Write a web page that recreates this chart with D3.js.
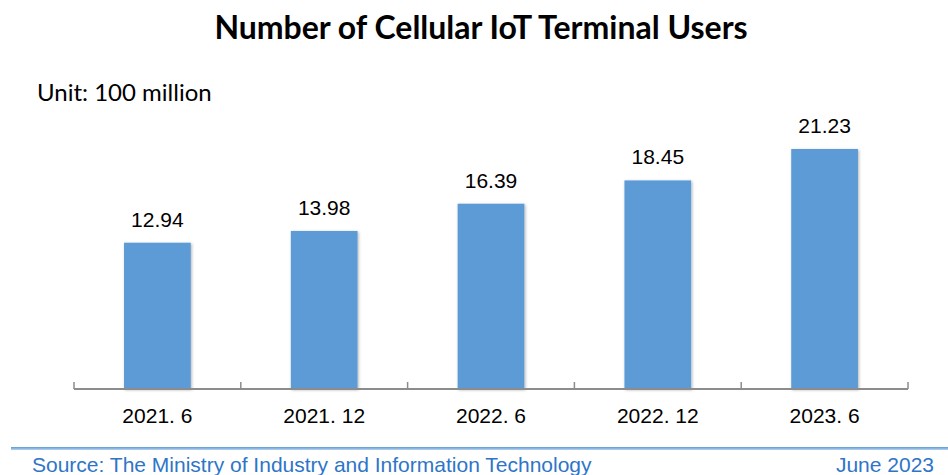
<!DOCTYPE html>
<html>
<head>
<meta charset="utf-8">
<script src="https://cdn.jsdelivr.net/npm/d3@7"></script>
<style>
  body { margin: 0; background: #fff; }
  svg { display: block; }
</style>
</head>
<body>
<svg id="chart" width="948" height="475"></svg>
<script>
// data
var periods = ['2021. 6', '2021. 12', '2022. 6', '2022. 12', '2023. 6'];
var users = [12.94, 13.98, 16.39, 18.45, 21.23];

var svg = d3.select('#chart');
var width = 948, height = 475;

var axisLeft = 74, axisRight = 908, baseY = 389;

var x = d3.scaleBand()
    .domain(periods)
    .range([axisLeft, axisRight])
    .paddingInner(0.6)
    .paddingOuter(0.3);

var y = d3.scaleLinear()
    .domain([0, 21.23])
    .range([baseY, 149]);

// title
svg.append('text')
    .attr('x', 481)
    .attr('y', 39)
    .attr('text-anchor', 'middle')
    .attr('font-family', 'Lato, "Open Sans", sans-serif')
    .attr('font-weight', 'bold')
    .attr('font-size', 32)
    .attr('fill', '#000')
    .text('Number of Cellular IoT Terminal Users');

svg.append('text')
    .attr('x', 37)
    .attr('y', 101)
    .attr('font-family', 'Lato, "Open Sans", sans-serif')
    .attr('font-size', 24)
    .attr('fill', '#000')
    .text('Unit: 100 million');

// bar shadow filter
var defs = svg.append('defs');
var f = defs.append('filter').attr('id', 'shadow').attr('x', '-10%').attr('y', '-10%').attr('width', '130%').attr('height', '130%');
f.append('feDropShadow')
    .attr('dx', 1).attr('dy', 1).attr('stdDeviation', 1.5)
    .attr('flood-color', '#000').attr('flood-opacity', 0.3);

var bars = svg.append('g');
bars.selectAll('rect')
    .data(users)
    .enter().append('rect')
    .attr('x', function (d, i) { return x(periods[i]); })
    .attr('y', function (d) { return y(d); })
    .attr('width', x.bandwidth())
    .attr('height', function (d) { return baseY - y(d); })
    .attr('fill', '#5b9bd5')
    .attr('filter', 'url(#shadow)');

bars.selectAll('text')
    .data(users)
    .enter().append('text')
    .attr('x', function (d, i) { return x(periods[i]) + x.bandwidth() / 2; })
    .attr('y', function (d) { return y(d) - 16; })
    .attr('text-anchor', 'middle')
    .attr('font-family', '"Liberation Sans", Arial, sans-serif')
    .attr('font-size', 21)
    .attr('fill', '#000')
    .text(function (d) { return d.toFixed(2); });

// x axis, ticks point up at the category edges
var axis = svg.append('g');
axis.append('line')
    .attr('x1', axisLeft).attr('x2', axisRight)
    .attr('y1', baseY).attr('y2', baseY)
    .attr('stroke', '#8c8c8c').attr('stroke-width', 2);

var edges = d3.range(periods.length + 1).map(function (i) {
    return axisLeft + i * (axisRight - axisLeft) / periods.length;
});
axis.selectAll('line.tick')
    .data(edges)
    .enter().append('line')
    .attr('class', 'tick')
    .attr('x1', function (d) { return d; })
    .attr('x2', function (d) { return d; })
    .attr('y1', baseY - 7).attr('y2', baseY)
    .attr('stroke', '#8c8c8c').attr('stroke-width', 1.5);

axis.selectAll('text')
    .data(periods)
    .enter().append('text')
    .attr('x', function (d) { return x(d) + x.bandwidth() / 2; })
    .attr('y', 423)
    .attr('text-anchor', 'middle')
    .attr('font-family', '"Liberation Sans Narrow", "Arial Narrow", sans-serif')
    .attr('font-size', 21)
    .attr('fill', '#000')
    .text(function (d) { return d; });

// footer
var grad = defs.append('linearGradient').attr('id', 'lineGrad').attr('x1', 0).attr('x2', 0).attr('y1', 0).attr('y2', 1);
grad.append('stop').attr('offset', '0%').attr('stop-color', '#5b9bd5');
grad.append('stop').attr('offset', '100%').attr('stop-color', '#b9d3ee');

svg.append('rect')
    .attr('x', 11).attr('y', 447)
    .attr('width', width - 11).attr('height', 3)
    .attr('fill', 'url(#lineGrad)');

svg.append('text')
    .attr('x', 32)
    .attr('y', 472)
    .attr('font-family', '"Liberation Sans", Arial, sans-serif')
    .attr('font-size', 21)
    .attr('fill', '#2e75c8')
    .text('Source: The Ministry of Industry and Information Technology');

svg.append('text')
    .attr('x', 934)
    .attr('y', 472)
    .attr('text-anchor', 'end')
    .attr('font-family', '"Liberation Sans", Arial, sans-serif')
    .attr('font-size', 21)
    .attr('fill', '#2e75c8')
    .text('June 2023');
</script>
</body>
</html>
